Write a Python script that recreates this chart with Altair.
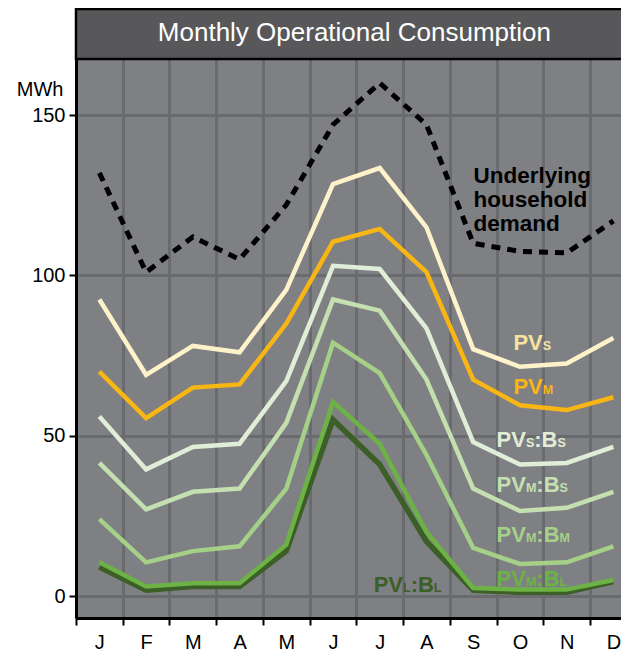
import altair as alt
import pandas as pd

# ---------------- data ----------------
months = ["J", "F", "M", "A", "M", "J", "J", "A", "S", "O", "N", "D"]
underlying = [132, 101, 112, 105, 122, 147, 160, 147, 110, 107.5, 107, 117]
pv_s = [92.5, 69, 78, 76, 95.5, 128.5, 133.5, 115, 77, 71.5, 72.5, 80.5]
pv_m = [70, 55.5, 65, 66, 85, 110.5, 114.5, 101, 67.5, 59.5, 58, 62]
pv_s_bs = [56, 39.5, 46.5, 47.5, 67, 103, 102, 83.5, 48, 41, 41.5, 46.5]
pv_m_bs = [41.5, 27, 32.5, 33.5, 54, 92.5, 89, 67.5, 33.5, 26.5, 27.5, 32.5]
pv_m_bm = [24, 10.5, 14, 15.5, 33.5, 79, 69.5, 44, 15, 10, 10.5, 15.5]
pv_m_bl = [10.5, 3, 4, 4, 16, 60.5, 47.5, 20, 2.5, 2, 2, 5]
pv_l_bl = [9, 1.8, 3, 3, 14, 55, 41, 17, 1.8, 1.2, 1.2, 4.5]

title_text = "Monthly Operational Consumption"
unit_text = "MWh"
demand_text = "Underlying\nhousehold\ndemand"

# series label pieces: (text, is_subscript)
label_pieces = [
    [("PV", False), ("S", True)],
    [("PV", False), ("M", True)],
    [("PV", False), ("S", True), (":B", False), ("S", True)],
    [("PV", False), ("M", True), (":B", False), ("S", True)],
    [("PV", False), ("M", True), (":B", False), ("M", True)],
    [("PV", False), ("M", True), (":B", False), ("L", True)],
    [("PV", False), ("L", True), (":B", False), ("L", True)],
]

# ---------------- layout / style ----------------
W, H = 545, 559
PX_PER_MONTH = 46.73
X_MAX = W / PX_PER_MONTH
Y_MIN, Y_MAX = -6.86, 167.5
FONT = "Liberation Sans"
BG = "#7f8084"
GRID = "#6a6b6f"
STRIP = "#58585b"

# label anchors (month-position, value) for annotations
label_anchor_x = [9.36, 9.36, 9.0, 9.0, 9.0, 9.0, 6.37]
label_anchor_y = [76.7, 63.0, 46.6, 32.5, 16.7, 3.1, 1.1]
label_colors = ["#f7e3a0", "#f8b614", "#e0eed8", "#c4e0b0", "#a5d088", "#6cb244", "#3c5e27"]
demand_anchor = (8.506, 128.8)

series = [
    (underlying, "black", 5, [9, 7]),
    (pv_s, "#fdf2c9", 4.5, None),
    (pv_m, "#f8b614", 4.5, None),
    (pv_s_bs, "#e0eed8", 4.5, None),
    (pv_m_bs, "#c4e0b0", 4.5, None),
    (pv_m_bm, "#a5d088", 4.5, None),
    (pv_l_bl, "#3c5e27", 5.5, None),
    (pv_m_bl, "#6cb244", 4.5, None),
]

BIG, SMALL = 22, 12.5
EM_BOLD = {"P": .667, "V": .667, ":": .333, "B": .722, "S": .667, "M": .833, "L": .611}

# ---------------- scales / axes ----------------
xs = alt.Scale(domain=[0, X_MAX], nice=False, zero=False)
ys = alt.Scale(domain=[Y_MIN, Y_MAX], nice=False, zero=False)
month_expr = "[" + ",".join(f"'{m}'" for m in months) + "][datum.value]"

x_axis = alt.Axis(
    values=list(range(12)), labelExpr=month_expr, labelOffset=PX_PER_MONTH / 2,
    title=None, grid=True, gridColor=GRID, gridWidth=3,
    tickSize=7, tickWidth=2, tickColor="black",
    domainColor="black", domainWidth=3,
    labelFontSize=20, labelFont=FONT, labelColor="black", labelPadding=7,
    labelFlush=False, labelOverlap=False, labelBound=False,
)
y_axis = alt.Axis(
    values=[0, 50, 100, 150], title=unit_text, titleAngle=0, titleX=-13, titleY=36,
    titleAlign="right", titleBaseline="alphabetic", titleFontSize=20, titleFont=FONT,
    titleFontWeight="normal", titleColor="black",
    grid=True, gridColor=GRID, gridWidth=3,
    tickSize=7, tickWidth=2, tickColor="black",
    domainColor="black", domainWidth=3,
    labelFontSize=20, labelFont=FONT, labelColor="black", labelPadding=4,
)
x_enc = alt.X("pos:Q", scale=xs, axis=x_axis)
y_enc = alt.Y("value:Q", scale=ys, axis=y_axis)

layers = []

# header strip
hdr = pd.DataFrame({"t": [title_text]})
layers.append(
    alt.Chart(hdr).mark_rect(fill=STRIP, stroke="black", strokeWidth=2.5).encode(
        x=alt.value(0), x2=alt.value(12 * PX_PER_MONTH), y=alt.value(-50), y2=alt.value(0)
    )
)
layers.append(
    alt.Chart(hdr).mark_text(font=FONT, fontSize=26, color="white", align="center",
                             baseline="alphabetic").encode(
        x=alt.value(6 * PX_PER_MONTH - 2), y=alt.value(-18.3), text="t:N"
    )
)

# lines
for vals, color, width, dash in series:
    d = pd.DataFrame({"pos": [i + 0.5 for i in range(len(vals))], "value": vals})
    kw = dict(color=color, strokeWidth=width, strokeJoin="miter", strokeCap="butt")
    if dash:
        kw["strokeDash"] = dash
    layers.append(alt.Chart(d).mark_line(**kw).encode(x=x_enc, y=y_enc))

# demand label
dd = pd.DataFrame({"pos": [demand_anchor[0]], "value": [demand_anchor[1]], "txt": [demand_text]})
layers.append(
    alt.Chart(dd).mark_text(font=FONT, fontSize=22.5, fontWeight="bold", color="black",
                            align="left", baseline="alphabetic", lineBreak="\n",
                            lineHeight=23.8).encode(x=x_enc, y=y_enc, text="txt:N")
)

# series labels
rows = []
for pieces, ax, ay, col in zip(label_pieces, label_anchor_x, label_anchor_y, label_colors):
    px = 0.0
    for txt, sub in pieces:
        size = SMALL if sub else BIG
        rows.append({"pos": ax + px / PX_PER_MONTH, "value": ay, "txt": txt, "size": size, "col": col})
        px += sum(EM_BOLD[c] for c in txt) * size
ld = pd.DataFrame(rows)
layers.append(
    alt.Chart(ld).mark_text(font=FONT, fontWeight="bold", align="left", baseline="alphabetic").encode(
        x=x_enc, y=y_enc, text="txt:N",
        size=alt.Size("size:Q", scale=None, legend=None),
        color=alt.Color("col:N", scale=None, legend=None),
    )
)

chart = alt.layer(*layers).properties(
    width=W, height=H,
    padding={"left": 68, "top": 51, "right": 0, "bottom": 34},
    autosize=alt.AutoSizeParams(type="none"),
    background="white",
).configure_view(fill=BG, stroke=None)

chart.save("out.html", embed_options={"renderer": "svg", "actions": False})
